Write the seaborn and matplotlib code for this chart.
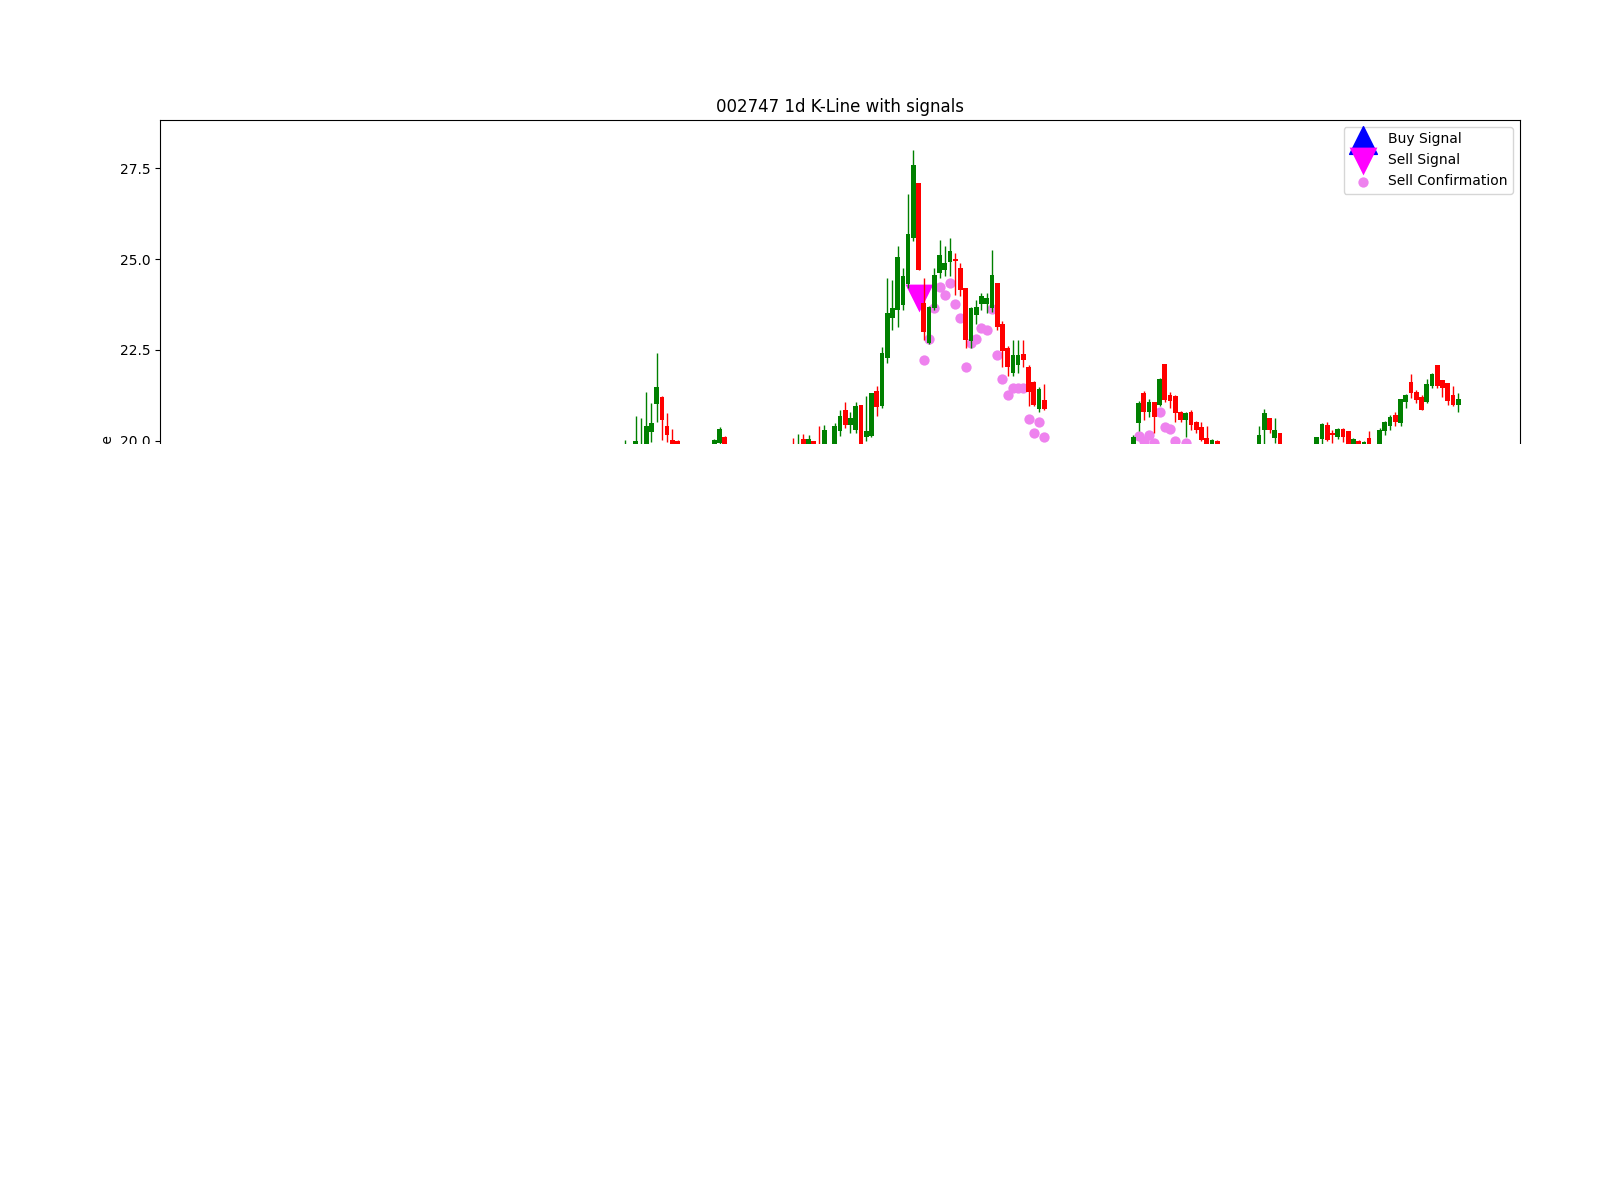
import matplotlib
matplotlib.use("Agg")
import matplotlib.pyplot as plt
from matplotlib.patches import Rectangle
import seaborn as sns
import pandas as pd
import numpy as np

# daily candles (bar index, open, high, low, close) - only the part above 20 is on screen
days = [77, 79, 80, 81, 82, 83, 84, 85, 86, 87,
        94, 95, 96,
        109, 110, 111, 112, 113, 114, 115, 117, 118, 119, 120, 121, 122, 123, 124, 125,
        126, 127, 128, 129, 130, 131, 132, 133, 134, 135, 136, 137, 138, 139, 140, 141,
        142, 143, 144, 145, 146, 147, 148, 149, 150, 151, 152, 153, 154, 155, 156, 157,
        174, 175, 176, 177, 178, 179, 180, 181, 182, 183, 184, 185, 186, 187, 188, 189, 190,
        198, 199, 200, 201, 202,
        209, 210, 211, 212, 213, 214, 215, 216, 217, 218, 219, 221, 222, 223, 224, 225,
        226, 227, 228, 229, 230, 231, 232, 233, 234, 235, 236]
opens = [19.7, 19.7, 19.7, 19.6, 20.23, 21.01, 21.20, 20.39, 20.02, 19.98,
         19.8, 19.93, 20.09,
         19.9, 19.6, 20.04, 19.8, 19.98, 19.9, 19.7, 19.7, 20.27, 20.85, 20.43, 20.28, 20.98, 20.11, 20.13, 21.37,
         20.94, 22.27, 23.37, 23.60, 23.74, 24.30, 25.58, 27.09, 23.78, 22.68, 23.65, 24.61, 24.70, 24.93, 25.00, 24.75,
         24.20, 22.73, 23.46, 23.76, 23.76, 23.65, 24.33, 23.21, 22.55, 21.86, 22.09, 22.38, 22.04, 21.62, 20.86, 21.12,
         19.8, 20.48, 21.31, 20.80, 21.05, 20.98, 22.10, 21.26, 21.23, 20.80, 20.57, 20.80, 20.50, 20.37, 20.06, 19.8, 20.0,
         19.8, 20.28, 20.62, 20.06, 20.20,
         19.8, 20.04, 20.43, 20.20, 20.10, 20.33, 20.25, 19.9, 20.0, 19.9, 20.06, 19.8, 20.25, 20.41, 20.71, 20.48,
         21.07, 21.61, 21.35, 21.21, 21.06, 21.51, 22.08, 21.67, 21.58, 21.26, 20.98]
highs = [20.02, 20.68, 20.62, 21.34, 21.03, 22.42, 21.22, 20.75, 20.32, 20.02,
         20.03, 20.37, 20.13,
         20.08, 20.18, 20.18, 20.14, 19.99, 20.40, 20.43, 20.48, 20.83, 21.07, 20.80, 21.06, 20.98, 21.23, 21.31, 21.49,
         22.59, 24.47, 24.43, 25.35, 24.75, 26.79, 28.01, 27.09, 24.47, 23.72, 24.75, 25.53, 25.35, 25.57, 25.16, 24.89,
         24.20, 23.69, 23.87, 24.07, 24.06, 25.26, 24.35, 23.28, 22.60, 22.78, 22.78, 22.78, 22.09, 21.64, 21.48, 21.57,
         20.16, 21.08, 21.36, 21.14, 21.07, 21.72, 22.10, 21.35, 21.25, 20.82, 20.80, 20.83, 20.53, 20.52, 20.39, 20.04, 20.01,
         20.40, 20.86, 20.63, 20.62, 20.20,
         20.11, 20.48, 20.52, 20.29, 20.35, 20.34, 20.26, 20.06, 20.01, 19.98, 20.25, 20.34, 20.55, 20.71, 20.80, 21.14,
         21.27, 21.83, 21.40, 21.25, 21.69, 21.86, 22.09, 21.68, 21.59, 21.49, 21.32]
lows = [19.5, 19.5, 19.5, 19.5, 19.97, 20.50, 20.02, 19.95, 19.6, 19.6,
        19.6, 19.85, 19.7,
        19.5, 19.5, 19.7, 19.7, 19.6, 19.4, 19.6, 19.6, 20.13, 20.35, 20.20, 20.20, 19.5, 20.0, 20.10, 20.69,
        20.90, 22.13, 23.05, 23.14, 23.60, 24.20, 25.50, 24.70, 22.78, 22.65, 23.60, 24.47, 24.52, 24.52, 24.01, 23.97,
        22.55, 22.55, 23.20, 23.60, 23.50, 23.55, 23.05, 22.04, 21.77, 21.77, 21.86, 22.04, 20.94, 20.94, 20.80, 20.84,
        19.6, 20.26, 20.57, 20.66, 20.20, 20.95, 21.05, 20.89, 20.52, 20.50, 20.11, 20.29, 20.20, 19.98, 19.7, 19.7, 19.7,
        19.6, 19.9, 20.20, 19.93, 19.6,
        19.6, 19.9, 19.98, 19.94, 20.05, 19.97, 19.7, 19.8, 19.7, 19.8, 19.7, 19.7, 20.16, 20.29, 20.39, 20.41,
        20.89, 21.17, 21.03, 20.83, 21.03, 21.45, 21.44, 21.21, 20.98, 20.94, 20.80]
closes = [19.9, 19.98, 19.9, 20.39, 20.48, 21.47, 20.57, 20.15, 19.8, 19.7,
          20.02, 20.31, 19.8,
          19.6, 19.9, 19.8, 20.04, 19.8, 19.5, 20.29, 20.40, 20.68, 20.43, 20.62, 20.96, 19.6, 20.27, 21.31, 20.92,
          22.41, 23.51, 23.65, 25.07, 24.52, 25.69, 27.58, 24.70, 23.00, 23.69, 24.56, 25.12, 24.90, 25.21, 24.95, 24.15,
          22.78, 23.65, 23.69, 23.98, 23.92, 24.56, 23.12, 22.48, 22.02, 22.36, 22.36, 22.22, 21.35, 20.98, 21.41, 20.86,
          20.09, 21.03, 20.80, 21.05, 20.66, 21.69, 21.12, 21.08, 20.75, 20.57, 20.77, 20.43, 20.29, 20.02, 19.8, 20.02, 19.8,
          20.16, 20.75, 20.28, 20.29, 19.8,
          20.09, 20.45, 20.02, 20.15, 20.33, 20.10, 19.85, 20.04, 19.85, 19.97, 19.8, 20.29, 20.50, 20.66, 20.52, 21.14,
          21.26, 21.32, 21.12, 20.84, 21.55, 21.83, 21.49, 21.44, 21.08, 20.98, 21.14]

n_bars = 237

# signals
buy_days = []
buy_prices = []
sell_days = [133]
sell_prices = [23.93]
confirm_days = [134, 135, 136, 137, 138, 139, 140, 141, 142, 143, 144, 145, 146, 147, 148,
                149, 150, 151, 152, 153, 154, 155, 156, 157,
                175, 176, 177, 178, 179, 180, 181, 182, 184]
confirm_prices = [22.22, 22.79, 23.65, 24.23, 24.01, 24.33, 23.77, 23.37, 22.04, 22.70, 22.80,
                  23.10, 23.05, 23.62, 22.36, 21.69, 21.26, 21.46, 21.46, 21.46, 20.59, 20.22,
                  20.52, 20.09, 20.12, 19.98, 20.16, 19.92, 20.79, 20.38, 20.31, 19.98, 19.92]

df = pd.DataFrame({"day": days, "open": opens, "high": highs, "low": lows, "close": closes})
df["color"] = np.where(df["close"] >= df["open"], "green", "red")

fig = plt.figure(figsize=(16, 12), dpi=100)
ax = fig.add_axes([0.1, 0.35, 0.85, 0.55])

# signal markers
ax.scatter(buy_days, buy_prices, marker="^", color="blue", s=400, label="Buy Signal")
sns.scatterplot(x=sell_days, y=sell_prices, marker="v", color="magenta", s=400,
                linewidth=0, label="Sell Signal", ax=ax, zorder=2)
sns.scatterplot(x=confirm_days, y=confirm_prices, marker="o", color="violet", s=55,
                linewidth=0, label="Sell Confirmation", ax=ax, zorder=2)

# candles
ax.vlines(df["day"], df["low"], df["high"], colors=df["color"], linewidth=1, zorder=3)
ax.bar(df["day"], (df["close"] - df["open"]).abs(), bottom=df[["open", "close"]].min(axis=1),
       width=0.9, color=df["color"], zorder=3)

ax.set_xlim(-0.05 * (n_bars - 1), 1.05 * (n_bars - 1))
ax.set_ylim(10.65, 28.83)
ax.set_title("002747 1d K-Line with signals")
ax.set_xlabel("Date")
ax.set_ylabel("Price")
ax.legend(loc="upper right")

# lower part of the figure is blank in the original render
fig.add_artist(Rectangle((0, 0), 1, 0.6304, transform=fig.transFigure,
                         facecolor="white", edgecolor="none", zorder=10))

fig.savefig("out.png", dpi=100)
